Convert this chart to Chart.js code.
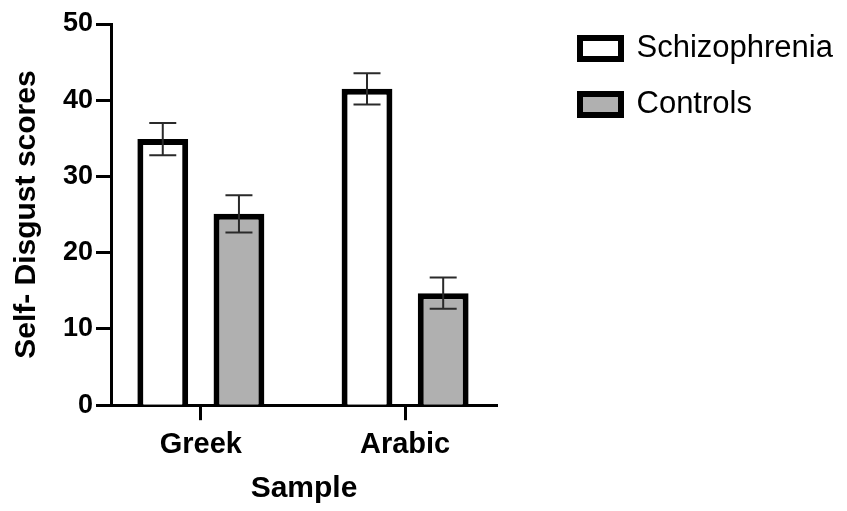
<!DOCTYPE html>
<html>
<head>
<meta charset="utf-8">
<script src="https://cdn.jsdelivr.net/npm/chart.js@4/dist/chart.umd.min.js"></script>
<style>
    html, body { margin: 0; padding: 0; background: #fff; }
    #wrap { width: 847px; height: 511px; }
</style>
</head>
<body>
<div id="wrap"><canvas id="chart" width="847" height="511"></canvas></div>
<script>
const categories = ['Greek', 'Arabic'];
const schizophreniaMeans = [34.9, 41.5];
const schizophreniaErrors = [2.1, 2.05];
const controlMeans = [25.1, 14.7];
const controlErrors = [2.45, 2.05];
const yTicks = [0, 10, 20, 30, 40, 50];

const FONT = '"Liberation Sans", Arial, Helvetica, sans-serif';

const toPoints = (values) => values.map((v, i) => ({ x: i, y: v }));

// error bars drawn from the dataset's own errors array
const errorBars = {
    id: 'errorBars',
    afterDatasetsDraw(chart) {
        const { ctx } = chart;
        const yScale = chart.scales.y;
        chart.data.datasets.forEach((ds, di) => {
            const meta = chart.getDatasetMeta(di);
            meta.data.forEach((bar, i) => {
                const mean = ds.data[i].y;
                const err = ds.errors[i];
                const top = yScale.getPixelForValue(mean + err);
                const bottom = yScale.getPixelForValue(mean - err);
                const half = 13.5;
                ctx.save();
                ctx.strokeStyle = '#2a2a2a';
                ctx.lineWidth = 2;
                ctx.beginPath();
                ctx.moveTo(bar.x, top);
                ctx.lineTo(bar.x, bottom);
                ctx.moveTo(bar.x - half, top);
                ctx.lineTo(bar.x + half, top);
                ctx.moveTo(bar.x - half, bottom);
                ctx.lineTo(bar.x + half, bottom);
                ctx.stroke();
                ctx.restore();
            });
        });
    },
};

// the legend box is kept narrow for the layout; let it draw to the canvas edge
const wideLegend = {
    id: 'wideLegend',
    afterLayout(chart) {
        const lg = chart.legend;
        if (!lg) {
            return;
        }
        lg.right = chart.width;
        lg.width = lg.right - lg.left;
    },
};

new Chart(document.getElementById('chart').getContext('2d'), {
    type: 'bar',
    data: {
        datasets: [
            {
                label: 'Schizophrenia',
                data: toPoints(schizophreniaMeans),
                errors: schizophreniaErrors,
                backgroundColor: '#ffffff',
                borderColor: '#000000',
                borderWidth: 6,
            },
            {
                label: 'Controls',
                data: toPoints(controlMeans),
                errors: controlErrors,
                backgroundColor: '#b0b0b0',
                borderColor: '#000000',
                borderWidth: 6,
            },
        ],
    },
    options: {
        responsive: false,
        animation: false,
        categoryPercentage: 0.746,
        barPercentage: 0.667,
        layout: { padding: { top: 8, right: 181, bottom: 0, left: 0 } },
        scales: {
            x: {
                type: 'linear',
                min: -0.44,
                max: 1.45,
                offset: false,
                afterBuildTicks: (scale) => {
                    scale.ticks = categories.map((c, i) => ({ value: i }));
                },
                ticks: {
                    callback: (value) => categories[value] ?? '',
                    color: '#000',
                    padding: 7,
                    font: { family: FONT, size: 29, weight: 'bold' },
                },
                grid: {
                    offset: false,
                    drawOnChartArea: false,
                    tickLength: 15,
                    tickWidth: 3,
                    tickColor: '#000',
                },
                border: { color: '#000', width: 3 },
                title: {
                    display: true,
                    text: 'Sample',
                    color: '#000',
                    padding: { top: 2, bottom: 4 },
                    font: { family: FONT, size: 30, weight: 'bold' },
                },
            },
            y: {
                min: 0,
                max: 50,
                afterBuildTicks: (scale) => {
                    scale.ticks = yTicks.map((v) => ({ value: v }));
                },
                afterFit: (scale) => {
                    scale.paddingTop = 24;
                },
                ticks: {
                    color: '#000',
                    padding: 3,
                    font: { family: FONT, size: 27, weight: 'bold' },
                },
                grid: {
                    drawOnChartArea: false,
                    tickLength: 15,
                    tickWidth: 3,
                    tickColor: '#000',
                },
                border: { color: '#000', width: 3 },
                title: {
                    display: true,
                    text: 'Self- Disgust scores',
                    color: '#000',
                    padding: { top: 9, bottom: 15 },
                    font: { family: FONT, size: 30, weight: 'bold' },
                },
            },
            // empty gap between the plot and the legend
            gap: {
                position: 'right',
                display: true,
                ticks: { display: false },
                grid: { display: false },
                border: { display: false },
                afterFit: (scale) => {
                    scale.width = 58;
                },
            },
        },
        plugins: {
            legend: {
                position: 'right',
                align: 'start',
                labels: {
                    boxWidth: 41,
                    boxHeight: 21,
                    padding: 25,
                    color: '#000',
                    font: { family: FONT, size: 31 },
                },
            },
            tooltip: { enabled: false },
        },
    },
    plugins: [errorBars, wideLegend],
});
</script>
</body>
</html>
